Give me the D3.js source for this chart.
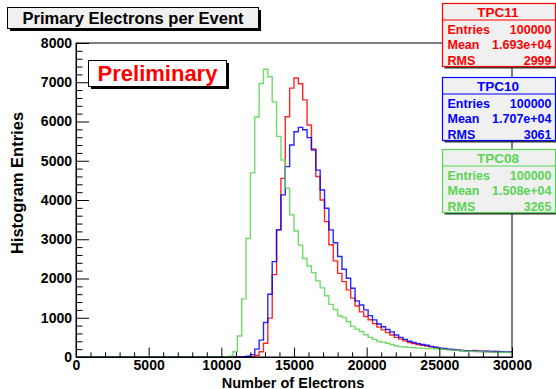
<!DOCTYPE html>
<html><head><meta charset="utf-8">
<script src="https://cdn.jsdelivr.net/npm/d3@7/dist/d3.min.js"></script>
<style>
body{margin:0;background:#fff;}
svg{display:block;font-family:"Liberation Sans",Arial,Helvetica,sans-serif;font-weight:bold;}
</style>
</head><body>
<svg id="c" width="556" height="389"></svg>
<script>
// ---- data ----
const xMin = 0, xMax = 30000, nBins = 100;
const yMax = 8000;
const xTicks = [0, 5000, 10000, 15000, 20000, 25000, 30000];
const yTicks = [0, 1000, 2000, 3000, 4000, 5000, 6000, 7000, 8000];
const seriesNames = ["TPC11", "TPC10", "TPC08"];
const seriesColors = ["#ff0000", "#0000ff", "#59d454"];
const entries = ["100000", "100000", "100000"];
const means = ["1.693e+04", "1.707e+04", "1.508e+04"];
const rmss = ["2999", "3061", "3265"];

const tpc11 = [
  0,0,0,0,0,0,0,0,0,0,
  0,0,0,0,0,0,0,0,0,0,
  0,0,0,0,0,0,0,0,0,0,
  0,0,0,0,0,0,0,0,0,5,
  10,40,135,350,990,2100,3240,4550,6120,6850,
  7110,6960,6550,5910,5300,4600,4000,3450,2860,2450,
  2130,1920,1710,1500,1300,1150,1030,950,850,760,
  690,620,560,500,455,410,370,340,320,300,
  280,260,240,220,210,195,185,175,165,160,
  155,165,145,140,150,135,150,130,125,120];
const tpc10 = [
  0,0,0,0,0,0,0,0,0,0,
  0,0,0,0,0,0,0,0,0,0,
  0,0,0,0,0,0,0,0,0,0,
  0,0,0,0,0,0,0,0,5,20,
  60,200,430,880,1600,2430,3240,4130,4850,5400,
  5740,5850,5790,5590,5270,4760,4255,3790,3240,2910,
  2560,2235,2005,1750,1430,1325,1200,1055,945,840,
  770,700,640,560,500,450,400,370,340,320,
  300,270,250,225,215,200,190,180,165,160,
  155,150,150,145,140,140,135,135,130,130];
const tpc08 = [
  0,0,0,0,0,0,0,0,0,0,
  0,0,0,0,0,0,0,0,0,0,
  0,0,0,0,0,0,0,0,0,0,
  0,0,0,0,5,20,135,535,1480,3020,
  4690,6115,6970,7330,7140,6500,5620,5020,4300,3620,
  3210,2850,2510,2320,2150,1940,1760,1560,1340,1210,
  1050,1010,900,780,710,650,565,500,450,395,
  380,350,320,280,265,255,245,235,225,220,
  215,215,210,205,195,180,175,170,160,150,
  145,140,135,130,130,125,125,120,120,115];
const series = [tpc11, tpc10, tpc08];

// ---- layout ----
const L = 76, R = 512, T = 43, B = 357;
const svg = d3.select("#c");
const x = d3.scaleLinear().domain([xMin, xMax]).range([L, R]);
const y = d3.scaleLinear().domain([0, yMax]).range([B, T]);
const binW = (xMax - xMin) / nBins;

// histograms
const line = d3.line().x(d => x(d[0])).y(d => y(d[1])).curve(d3.curveStepAfter);
series.forEach((s, k) => {
  const pts = s.map((v, i) => [xMin + i * binW, v]);
  pts.push([xMax, s[s.length - 1]]);
  svg.append("path").attr("d", line(pts)).attr("fill", "none")
    .attr("stroke", seriesColors[k]).attr("stroke-width", 1.4)
    .attr("stroke-opacity", 0.85);
});

// frame
svg.append("rect").attr("x", L).attr("y", T).attr("width", R - L).attr("height", B - T)
  .attr("fill", "none").attr("stroke", "#000").attr("stroke-width", 1);

// x axis
const xMinor = d3.range(xMin, xMax + 1, 1000).filter(v => v % 5000 !== 0);
const gx = svg.append("g").attr("transform", `translate(0,${B})`)
  .call(d3.axisBottom(x).tickValues(xTicks).tickSize(-9.4).tickPadding(3).tickFormat(d3.format("d")));
gx.select(".domain").attr("stroke", "#000");
gx.selectAll("text").attr("font-size", 14).attr("font-family", "Liberation Sans, Arial").attr("font-weight", "bold").attr("fill", "#000");
svg.append("g").attr("transform", `translate(0,${B})`)
  .call(d3.axisBottom(x).tickValues(xMinor).tickSize(-4.7).tickFormat(""))
  .select(".domain").remove();

// y axis
const yMinor = d3.range(0, yMax + 1, 200).filter(v => v % 1000 !== 0);
const gy = svg.append("g").attr("transform", `translate(${L},0)`)
  .call(d3.axisLeft(y).tickValues(yTicks).tickSize(-13).tickPadding(4).tickFormat(d3.format("d")));
gy.selectAll("text").attr("font-size", 14).attr("font-family", "Liberation Sans, Arial").attr("font-weight", "bold").attr("fill", "#000");
svg.append("g").attr("transform", `translate(${L},0)`)
  .call(d3.axisLeft(y).tickValues(yMinor).tickSize(-6.5).tickFormat(""))
  .select(".domain").remove();
svg.selectAll(".tick line").attr("stroke", "#000");

// axis titles
svg.append("text").attr("x", 293).attr("y", 387.5).attr("text-anchor", "middle")
  .attr("font-size", 14.5).text("Number of Electrons");
svg.append("text").attr("transform", "translate(22.5,183) rotate(-90)").attr("text-anchor", "middle")
  .attr("font-size", 16.5).text("Histogram Entries");

// title box
svg.append("rect").attr("x", 10).attr("y", 10).attr("width", 251).attr("height", 21).attr("fill", "#000");
svg.append("rect").attr("x", 7.5).attr("y", 7.5).attr("width", 251).attr("height", 21)
  .attr("fill", "#f0f0f0").attr("stroke", "#000");
svg.append("text").attr("x", 133).attr("y", 24).attr("text-anchor", "middle")
  .attr("font-size", 16.5).text("Primary Electrons per Event");

// preliminary box
svg.append("rect").attr("x", 91).attr("y", 63).attr("width", 138).attr("height", 26).attr("fill", "#000");
svg.append("rect").attr("x", 88.5).attr("y", 60.5).attr("width", 138).attr("height", 26)
  .attr("fill", "#fff").attr("stroke", "#000");
svg.append("text").attr("x", 157.5).attr("y", 81).attr("text-anchor", "middle")
  .attr("font-size", 22).attr("fill", "#ff0000").text("Preliminary");

// stat boxes
const boxTops = [3.5, 77.5, 149.5];
boxTops.forEach((top, k) => {
  const c = seriesColors[k];
  const bx = 442.5, bw = 113, bh = 63;
  const g = svg.append("g");
  g.append("rect").attr("x", bx + 2).attr("y", top + 2).attr("width", bw).attr("height", bh).attr("fill", "#333");
  g.append("rect").attr("x", bx).attr("y", top).attr("width", bw).attr("height", bh)
    .attr("fill", "#f0f0f0").attr("stroke", c).attr("stroke-width", 1.2);
  g.append("line").attr("x1", bx).attr("x2", bx + bw).attr("y1", top + 16.5).attr("y2", top + 16.5)
    .attr("stroke", c).attr("stroke-width", 1.2);
  g.append("text").attr("x", bx + bw / 2 - 1).attr("y", top + 13.5).attr("text-anchor", "middle")
    .attr("font-size", 13.5).attr("fill", c).text(seriesNames[k]);
  const rows = [["Entries", entries[k]], ["Mean", means[k]], ["RMS", rmss[k]]];
  rows.forEach((r, j) => {
    const yy = top + 30 + j * 15.5;
    g.append("text").attr("x", bx + 5).attr("y", yy).attr("font-size", 12.5).attr("fill", c).text(r[0]);
    g.append("text").attr("x", bx + bw - 4).attr("y", yy).attr("text-anchor", "end")
      .attr("font-size", 12.5).attr("fill", c).text(r[1]);
  });
});
</script>
</body></html>
